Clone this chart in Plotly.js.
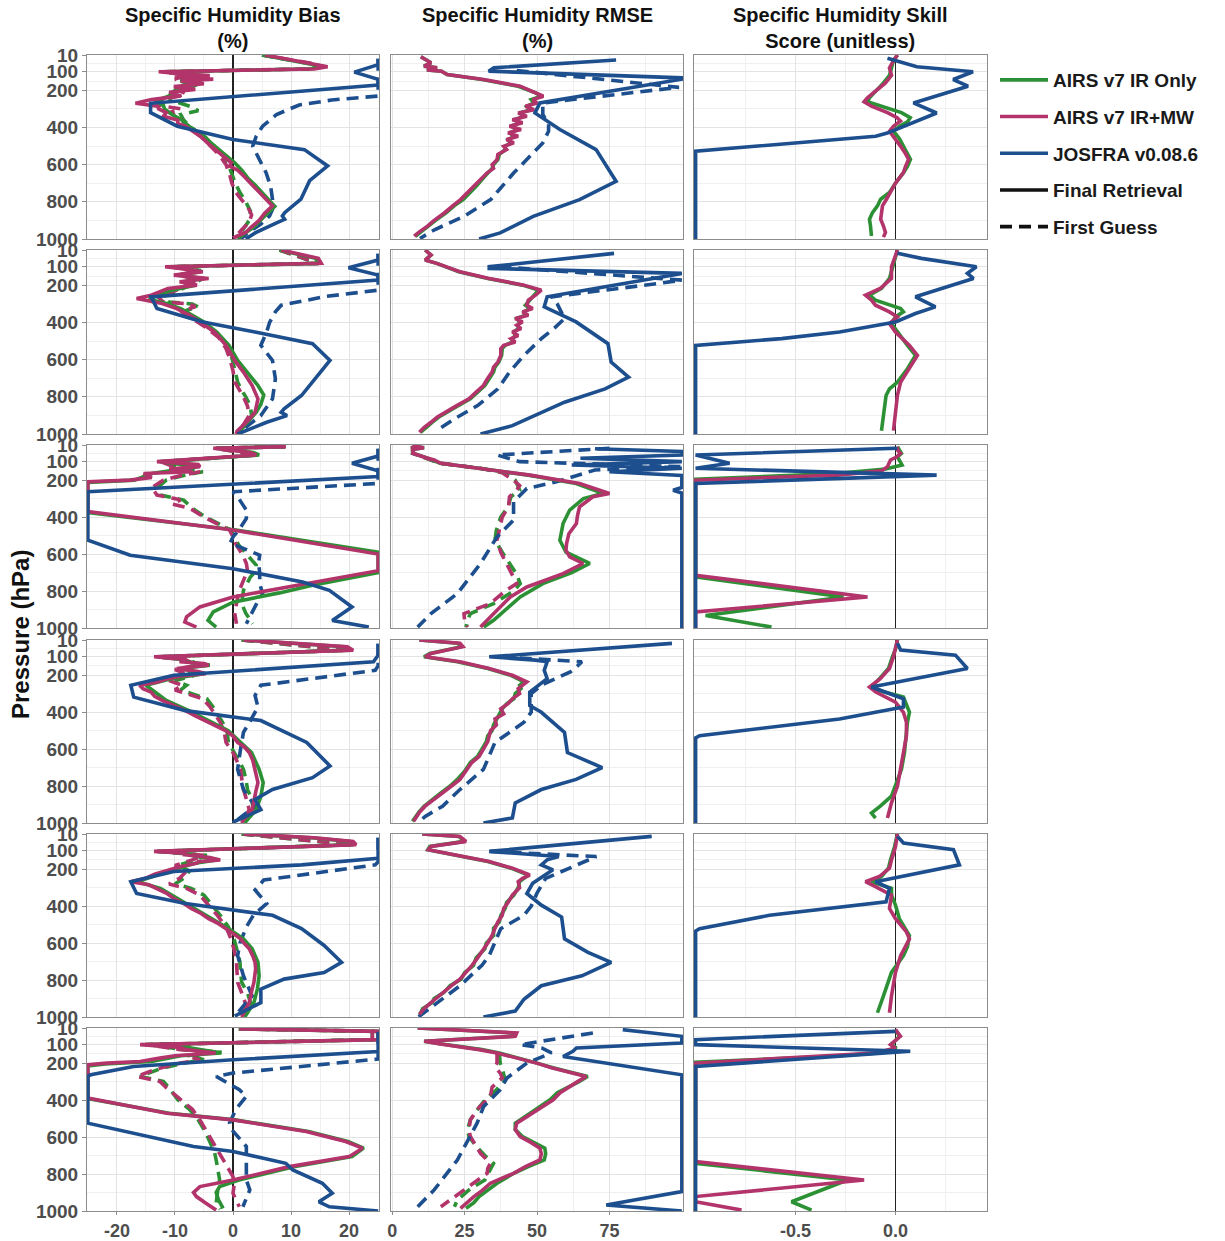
<!DOCTYPE html>
<html><head><meta charset="utf-8">
<script src="https://cdn.plot.ly/plotly-3.0.1.min.js"></script>
<style>body{margin:0;background:#fff}#chart{width:1225px;height:1241px}</style>
</head><body><div id="chart"></div>
<script>
// ---- tick labels / categories ----
const colTitles = ['Specific Humidity Bias<br>(%)', 'Specific Humidity RMSE<br>(%)', 'Specific Humidity Skill<br>Score (unitless)'];
const pressureTicks = [10, 100, 200, 400, 600, 800, 1000];
const biasTicks = [-20, -10, 0, 10, 20];
const rmseTicks = [0, 25, 50, 75];
const skillTicks = [-0.5, 0.0];
const skillTickText = ['-0.5', '0.0'];
const seriesNames = ['AIRS v7 IR Only', 'AIRS v7 IR+MW', 'JOSFRA v0.08.6'];
const stageNames = ['Final Retrieval', 'First Guess'];

// ---- data: [pressure hPa, value] ----
// Row 1
const b1_irmw_f = [[10,5.5],[30,9],[55,14],[73,16.3],[85,14],[100,-12.8],[110,-9.2],[120,-4],[130,-10],[140,-3.4],[150,-9],[165,-5],[180,-10.2],[195,-6.5],[210,-11],[230,-9],[250,-14],[270,-16.8],[285,-13],[300,-12.8],[320,-11.5],[340,-12],[360,-9.5],[380,-9.5],[393,-8.2],[420,-7],[450,-5.5],[480,-4.5],[500,-3.7],[530,-2.5],[560,-1.5],[590,-0.3],[607,-0.6],[630,0.8],[660,1.8],[700,3],[740,4.2],[786,5.7],[822,6.8],[860,5.5],[900,4.5],[940,3],[965,2.2],[990,0.3],[1000,0.5]];
const b1_ir_f = [[10,5],[30,8.5],[55,13.5],[73,15.8],[85,13],[100,-12],[115,-7],[130,-5],[145,-9],[160,-5.5],[180,-7],[200,-10],[230,-11],[260,-13.5],[280,-12],[300,-11.8],[330,-10.5],[360,-8.8],[393,-7.6],[420,-6.3],[450,-4.8],[480,-3.9],[510,-2.8],[550,-1.4],[590,0.3],[630,1.5],[670,2.5],[710,3.8],[750,5],[790,6.3],[825,7.2],[860,6],[900,4.8],[940,3.4],[970,2],[1000,0.8]];
const b1_irmw_g = [[10,5],[55,13.5],[73,15.5],[85,13],[100,-12],[120,-8],[140,-10],[160,-6],[190,-10],[220,-8],[250,-12],[280,-13],[300,-9],[320,-11],[350,-9],[393,-8],[450,-5.5],[500,-3.8],[550,-2.3],[600,-1.2],[650,-0.6],[700,-0.2],[750,0.5],[790,1.5],[830,2.6],[870,3.2],[910,2.8],[950,1.5],[990,0.4]];
const b1_ir_g = [[10,5],[55,13],[73,15.2],[85,12.5],[100,-11.5],[125,-7.5],[150,-9],[180,-6.5],[210,-9.5],[250,-11],[290,-7],[310,-6],[330,-9],[360,-8.5],[393,-7.5],[450,-5],[500,-3.3],[550,-1.8],[600,-0.8],[650,-0.2],[700,0.4],[750,1.2],[800,2.2],[850,3],[900,2.8],[950,1.7],[990,0.6]];
const b1_jo_f = [[30,25],[62,25],[102,20.9],[141,25],[171,25],[270,-14.2],[320,-14.2],[393,-9.6],[465,0],[519,12.3],[607,16.3],[686,13.2],[786,11.7],[858,8.9],[876,8.5],[894,8.9],[912,7.6],[966,3.9],[1000,2.2]];
const b1_jo_g = [[30,25],[231,25],[252,17],[279,11.4],[330,7.5],[393,5.1],[447,4],[500,3.4],[570,4.5],[643,5.7],[720,6.5],[786,6.8],[840,6.8],[876,6.3],[920,4.8],[948,3.4],[990,1.7],[1000,1.2]];
const r1_irmw_f = [[19,9.9],[52,13.4],[70,11],[79,15.5],[90,12],[97,17],[115,19],[142,31.6],[178,44.2],[214,49.9],[232,52.2],[250,48.5],[268,50],[286,46],[304,49],[322,43.5],[340,46.5],[358,41.5],[375,45],[393,40.5],[411,44.5],[429,40],[447,43.5],[465,39.5],[483,42],[501,38.5],[519,39.5],[545,36.5],[573,36.2],[600,34.5],[620,35],[644,32.8],[680,30.5],[716,28.2],[750,26],[788,23.6],[820,21],[860,18],[900,14.5],[931,12.2],[960,9.5],[985,7.6]];
const r1_ir_f = [[19,9.9],[52,13.4],[70,11],[79,15.5],[90,12],[97,17],[115,19],[142,31],[178,43.5],[214,49.5],[232,51.5],[250,48],[268,49],[286,46.5],[304,48],[322,44],[340,45.5],[358,42.5],[375,44],[393,41],[411,43.5],[429,40.5],[447,42.5],[465,40],[483,41],[501,39],[519,39],[545,37],[573,36.5],[600,35],[620,34.5],[644,33],[680,31],[716,29],[750,27],[788,24.5],[820,21.5],[860,18.5],[900,15],[931,12.5],[960,9.8],[985,8]];
const r1_jo_f = [[37,77.3],[79,35.1],[97,33.3],[133,100],[140,100],[268,51],[322,49.3],[411,57.9],[519,70.4],[690,77.3],[788,64.7],[878,48.7],[967,37.3],[1000,30]];
const r1_jo_g = [[93,43],[184,99],[268,52],[330,52],[380,54],[420,54],[483,52],[644,42],[788,34],[878,24.8],[949,14.8],[997,9.6]];
const s1_irmw = [[10,0.01],[40,-0.01],[80,-0.03],[120,-0.02],[160,-0.05],[203,-0.1],[240,-0.14],[262,-0.157],[285,-0.12],[320,-0.04],[347,0.008],[365,0.025],[393,-0.01],[420,-0.03],[460,0.0],[500,0.025],[540,0.05],[571,0.066],[610,0.05],[643,0.04],[700,0.0],[750,-0.024],[786,-0.045],[822,-0.065],[860,-0.07],[894,-0.074],[930,-0.06],[965,-0.05],[990,-0.06]];
const s1_ir = [[10,0.01],[40,-0.01],[80,-0.02],[120,-0.03],[160,-0.06],[203,-0.1],[240,-0.13],[262,-0.14],[290,-0.06],[320,0.03],[347,0.074],[370,0.06],[393,0.02],[420,-0.01],[460,0.02],[500,0.04],[540,0.06],[571,0.075],[610,0.06],[643,0.04],[700,0.0],[750,-0.03],[786,-0.074],[822,-0.09],[858,-0.115],[894,-0.13],[930,-0.125],[984,-0.12]];
const s1_jo = [[28,-0.04],[73,0.107],[100,0.388],[142,0.289],[178,0.363],[268,0.09],[322,0.206],[430,-0.041],[447,-0.099],[528,-1],[1000,-1]];
// Row 2
const b2_irmw_f = [[10,8.3],[55,14.7],[82,15.2],[100,-11.7],[109,-9.2],[127,-5.2],[145,-10.2],[163,-4.2],[181,-9.2],[199,-6.2],[217,-11.2],[240,-13],[253,-14.1],[271,-16.6],[298,-12.2],[325,-9.7],[360,-7.5],[397,-5.7],[451,-3.2],[523,-1.2],[560,-0.5],[604,0.3],[667,1.8],[739,3.3],[811,4.3],[883,3.8],[937,2.3],[982,0.8],[1000,0.5]];
const b2_ir_f = [[10,8],[55,14.2],[82,14.8],[100,-11],[109,-8.5],[127,-5.5],[145,-9.5],[163,-5],[181,-8.5],[199,-6.5],[226,-10.5],[253,-13],[275,-14.5],[298,-11.5],[325,-9],[360,-7],[397,-5],[451,-2.8],[523,-0.7],[604,0.8],[667,2.5],[739,4.3],[790,5.3],[840,4.8],[883,4],[937,2.5],[982,1],[1000,0.7]];
const b2_irmw_g = [[10,8],[82,14.8],[100,-11],[120,-6],[145,-9.5],[170,-6],[200,-8],[230,-10],[260,-13],[290,-12],[300,-7.5],[316,-6.5],[340,-9],[380,-7],[430,-4.5],[480,-2.5],[540,-1.2],[600,-0.5],[660,0],[720,0.3],[760,1],[800,1.8],[850,2.5],[900,2.8],[950,1.8],[990,0.6]];
const b2_ir_g = [[10,8],[82,14.5],[100,-10.5],[120,-5.5],[145,-9],[170,-5.5],[200,-7.5],[230,-9.5],[260,-12],[290,-11],[300,-7],[316,-6],[340,-8.5],[380,-6.5],[430,-4],[480,-2],[540,-0.8],[600,-0.1],[660,0.4],[720,0.8],[760,1.4],[800,2.2],[850,3],[900,3.2],[950,2.2],[990,0.9]];
const b2_jo_f = [[30,25],[64,25],[105,19.9],[145,25],[172,25],[262,-14.1],[325,-13.1],[397,-5.2],[451,3.8],[514,13.7],[604,16.7],[703,14.2],[793,11.8],[865,8.8],[883,8.3],[901,9.3],[937,5.8],[1000,0.8]];
const b2_jo_g = [[30,25],[226,25],[260,16],[307,8.3],[343,7.3],[400,6.3],[451,5.8],[523,4.8],[604,6.8],[703,7.3],[811,6.8],[901,4.8],[973,1.8],[1000,1]];
const r2_irmw_f = [[10,11.4],[37,13.4],[64,11.4],[82,15.4],[127,23.4],[163,33.5],[199,45.5],[226,51.5],[253,49.5],[280,47],[307,46.5],[325,48.5],[343,45],[361,47],[379,42.5],[397,45],[415,43],[433,44.5],[451,41.5],[470,43.5],[487,41],[505,42.5],[523,38.5],[541,37.5],[577,37.5],[613,36.5],[640,35],[667,34.5],[700,33],[739,31.5],[775,29],[811,26.5],[850,22],[883,18.4],[910,15.5],[937,13.4],[965,11],[991,9.4]];
const r2_ir_f = [[10,11.4],[37,13.4],[64,11.4],[82,15.4],[127,23],[163,33],[199,45],[226,50.5],[253,49],[280,47.5],[307,46],[325,47.5],[343,45.5],[361,46],[379,43],[397,44],[415,43.5],[433,43.5],[451,42],[470,42.5],[487,41.5],[505,41.5],[523,39],[541,38],[577,37.8],[613,36.8],[640,35.5],[667,35],[700,33.5],[739,32],[775,29.5],[811,27],[850,22.5],[883,19],[910,16],[937,13.8],[965,11.5],[991,9.8]];
const r2_jo_f = [[28,76.6],[100,33.5],[109,33.5],[136,100],[150,95],[262,53.5],[316,52.5],[397,63.5],[514,74.5],[613,75.6],[694,81.6],[757,73.5],[829,59.5],[901,49.5],[955,41.5],[1000,30.5]];
const r2_jo_g = [[100,37],[172,100],[190,92],[262,55],[300,57],[379,59.5],[430,56],[487,51.5],[577,45.5],[667,40.5],[757,36.5],[847,29.5],[919,21.4],[982,15.4]];
const s2_irmw = [[10,0.01],[100,-0.02],[163,-0.02],[217,-0.076],[253,-0.15],[280,-0.12],[307,-0.1],[343,-0.03],[370,0.01],[406,-0.03],[451,0],[523,0.07],[577,0.11],[649,0.07],[721,0.026],[790,0.01],[883,0],[982,-0.01]];
const s2_ir = [[10,0.01],[100,-0.015],[163,-0.03],[217,-0.07],[253,-0.13],[280,-0.1],[307,-0.02],[325,0.026],[343,0.04],[370,0.0],[406,-0.02],[451,0.01],[523,0.06],[577,0.1],[649,0.06],[721,0.01],[757,-0.03],[793,-0.047],[860,-0.055],[919,-0.06],[982,-0.07]];
const s2_jo = [[28,0.01],[55,0.13],[100,0.405],[136,0.36],[163,0.39],[262,0.1],[316,0.2],[352,0.1],[397,0],[451,-0.28],[487,-0.57],[523,-1],[1000,-1]];
// Row 3
const b3_irmw_f = [[19,9.1],[28,-3.4],[50,3],[64,4],[100,-13.1],[115,-6],[127,-5.7],[140,-11],[155,-7],[164,-15.4],[185,-14],[200,-17.7],[209,-25],[370,-25],[470,0],[600,25],[690,25],[760,12.6],[832,0],[886,-5.7],[940,-8],[968,-8.3],[995,-6.3]];
const b3_ir_f = [[19,9],[28,-3],[50,3.5],[64,4.5],[100,-12.5],[127,-6],[164,-14],[200,-17],[212,-25],[375,-25],[470,0.5],[590,25],[700,25],[770,13.5],[810,8],[860,0],[913,-3.4],[959,-4.3],[995,-2.9]];
const b3_irmw_g = [[19,9],[28,-3],[64,4],[100,-12.5],[127,-10.3],[155,-5.7],[175,-9],[200,-12],[240,-14],[281,-13.1],[300,-10],[308,-9.1],[330,-10.5],[353,-7.4],[398,-5.1],[434,-2.9],[470,-0.6],[507,0],[552,0.6],[606,1.7],[651,2.3],[690,2.5],[724,2],[796,1.1],[868,0.6],[920,0.3],[977,0.6]];
const b3_ir_g = [[19,9],[28,-3],[64,4.3],[100,-12],[127,-9.5],[155,-5.2],[175,-8.5],[200,-11.5],[240,-13],[281,-12.5],[308,-8.5],[353,-7],[398,-4.8],[434,-2.5],[470,-0.4],[507,0.2],[552,1],[606,2.5],[660,4],[690,4],[724,3],[796,1.8],[868,1.5],[920,2.2],[977,3.4]];
const b3_jo_f = [[30,25],[70,25],[109,20.5],[150,25],[181,25],[263,-25],[525,-25],[606,-17.7],[679,0],[751,12],[796,16.6],[886,20.5],[959,17.1],[995,23.4]];
const b3_jo_g = [[30,25],[218,25],[263,0],[300,1],[362,2.3],[407,2.3],[470,1],[507,0],[540,-0.5],[561,1.1],[606,4.6],[651,4.4],[700,4.6],[760,4.6],[814,5.1],[860,4.2],[913,3.4],[977,2.3]];
const r3_irmw_f = [[15,7],[25,11],[33,7.5],[55,7.1],[80,12],[91,14.5],[109,16.8],[136,30.5],[173,47.6],[218,64.7],[272,75],[290,69.3],[344,64.7],[390,64],[435,63.6],[490,61],[543,60.2],[580,60],[615,61.3],[651,65.9],[706,59],[778,46.5],[832,40.8],[904,36.2],[995,30.5]];
const r3_ir_f = [[15,7],[25,11],[33,7.5],[55,7.1],[80,12],[91,14],[109,16.5],[136,30],[173,47],[218,63.5],[272,72.7],[300,66],[362,61.3],[435,59],[525,57.9],[590,60],[651,68.2],[700,62],[760,52],[832,44.2],[900,39],[958,35],[995,31.6]];
const r3_irmw_g = [[15,7],[55,7.1],[109,16.8],[136,30.5],[160,38],[200,41.9],[230,44],[254,43],[290,40.5],[344,40.2],[400,38],[470,37],[525,36.2],[590,37.5],[651,39.6],[710,41.5],[760,43],[800,39],[868,33.9],[922,24.8],[960,25],[995,26]];
const r3_ir_g = [[15,7],[55,7.1],[109,16.5],[136,30],[160,39],[200,42.5],[254,44],[290,41],[344,40],[400,37.5],[470,36],[525,35.5],[590,38],[651,40.5],[710,43],[760,44.2],[800,42],[868,35],[922,27],[958,26],[995,25.5]];
const r3_jo_f = [[30,70],[45,100],[64,100],[82,65],[100,100],[118,62],[136,100],[155,75],[175,100],[240,100],[255,97],[270,100],[1000,100]];
const r3_jo_g = [[28,75],[64,36.2],[100,44],[127,100],[145,70],[209,56.7],[245,46.5],[317,41.9],[416,41.9],[507,36.2],[651,30.5],[814,22.5],[922,13.4],[995,8.8]];
const s3_irmw = [[19,0.01],[37,0.01],[55,0.025],[75,0.005],[91,-0.025],[127,-0.04],[150,-0.07],[173,-0.29],[200,-1],[715,-1],[832,-0.14],[913,-1],[1000,-1]];
const s3_ir = [[19,0.01],[37,0.02],[55,0.03],[75,0.01],[100,0.025],[118,0.033],[140,-0.05],[165,-0.3],[195,-1],[724,-1],[832,-0.26],[932,-0.95],[995,-0.62]];
const s3_jo = [[19,0],[28,0],[64,-1],[109,-0.83],[136,-1],[173,0.206],[218,-1],[1000,-1]];
// Row 4
const b4_irmw_f = [[10,1.8],[28,12],[46,19.7],[65,20.7],[83,5],[101,-13.6],[115,-8],[128,-9.2],[137,-5],[146,-4.2],[164,-9.7],[180,-6],[192,-4.7],[205,-9],[219,-11.2],[237,-13],[255,-16.1],[273,-15.5],[292,-14.1],[315,-13.5],[337,-12.2],[365,-10],[392,-8.2],[420,-6.5],[446,-4.7],[475,-3],[501,-1.2],[530,0],[564,0.8],[590,2],[619,2.8],[660,3.4],[710,3.8],[750,4.2],[782,4.3],[820,4],[855,3.8],[890,3.5],[928,3.3],[960,2.5],[982,1.8],[1000,1.5]];
const b4_ir_f = [[10,1.5],[28,11.5],[46,19.2],[65,20.2],[83,4.5],[101,-13],[115,-8.5],[128,-8],[146,-4],[164,-9],[192,-5],[219,-10.5],[255,-15],[292,-13.5],[337,-11.5],[392,-7.6],[446,-4.2],[501,-0.8],[564,1.3],[619,3.2],[710,4.5],[782,5.2],[855,4.8],[928,4],[982,2.5],[1000,2]];
const b4_irmw_g = [[10,1.5],[65,20],[101,-13],[120,-8],[146,-6.2],[170,-10],[200,-7.5],[230,-11],[255,-8.7],[280,-10],[328,-5.2],[370,-4],[455,-2.2],[510,-1.5],[564,-1.2],[620,0],[673,0.8],[710,1.3],[760,1.5],[818,1.8],[870,2.3],[928,2.8],[982,1.8]];
const b4_ir_g = [[10,1.5],[65,19.5],[101,-12.5],[120,-7.5],[146,-5.5],[170,-9],[200,-6.5],[230,-10],[255,-8],[280,-9],[328,-4.5],[370,-3.5],[455,-1.8],[510,-1],[564,-0.8],[620,0.3],[673,1.2],[710,1.8],[760,2.2],[818,2.5],[870,3.2],[928,3.5],[982,2.2]];
const b4_jo_f = [[30,25],[92,25],[128,24.2],[201,-10.2],[255,-17.6],[319,-17.1],[392,-8.2],[446,4.8],[564,12.7],[691,16.7],[755,13.7],[819,6.8],[873,3.8],[928,4.8],[991,0.3],[1000,0]];
const b4_jo_g = [[30,25],[150,25],[174,24.5],[255,4.8],[310,3.8],[373,4.3],[446,3],[510,1.8],[600,1.3],[710,0.8],[819,1.8],[909,3.8],[982,0.8]];
const r4_irmw_f = [[10,9.4],[28,23.4],[46,24.4],[83,13.4],[101,11.4],[128,23.4],[164,33.5],[201,41.5],[237,46.5],[255,45],[273,43.5],[300,44],[328,41.5],[355,40],[382,37.5],[410,38.5],[437,35.5],[470,36],[500,34],[528,33.5],[560,33],[600,31.5],[640,30],[673,27.5],[720,25.5],[764,23.4],[800,20.5],[837,17.4],[870,14.5],[909,11.4],[940,9.5],[964,8.4],[991,7.4]];
const r4_ir_f = [[10,9.4],[28,22.5],[46,24],[83,13],[101,11],[128,22.5],[164,33],[201,41],[237,45.5],[255,44],[273,44.5],[300,42.5],[328,42],[355,39.5],[382,38],[410,37],[437,36],[470,35],[500,34.5],[528,33],[560,32.5],[600,31],[640,29.5],[673,27],[720,25],[764,22.5],[800,20],[837,16.8],[870,14],[909,11],[940,9.3],[964,8.2],[991,7]];
const r4_jo_f = [[28,96.6],[101,33.5],[119,49.5],[128,53.5],[174,52.5],[219,53.5],[292,47.5],[364,47.5],[401,51.5],[510,59.5],[619,60.5],[700,72.5],[764,63.5],[819,51.5],[891,42.5],[973,41.5],[1000,31.5]];
const r4_jo_g = [[101,37.5],[128,65.5],[150,64],[183,61.5],[250,52],[300,48],[400,48],[455,45.5],[564,35.5],[710,31.5],[819,23.4],[909,17.4],[964,11.4],[1000,9]];
const s4_irmw = [[10,0.01],[60,0.0],[100,-0.01],[164,-0.03],[219,-0.076],[264,-0.13],[290,-0.1],[346,0],[401,0.04],[455,0.055],[528,0.055],[619,0.04],[710,0.026],[800,0.01],[891,-0.02],[973,-0.04]];
const s4_ir = [[10,0.01],[60,0.0],[100,-0.015],[164,-0.035],[219,-0.08],[264,-0.12],[290,-0.06],[319,0.04],[346,0.05],[401,0.07],[455,0.06],[528,0.055],[619,0.045],[710,0.03],[800,0.0],[855,-0.02],[909,-0.076],[946,-0.12],[973,-0.1]];
const s4_jo = [[28,0.01],[64,0.026],[92,0.3],[164,0.36],[264,-0.12],[328,0.04],[373,0.04],[437,-0.28],[528,-0.98],[540,-1],[1000,-1]];
// Row 5
const b5_irmw_f = [[10,1.8],[30,14],[50,20.7],[68,21.2],[85,5],[104,-13.6],[114,-8],[123,-8.2],[137,-4],[150,-2.2],[160,-6],[168,-6.2],[186,-9],[204,-11.2],[227,-13.5],[250,-15.1],[268,-17.6],[285,-14.5],[304,-13.1],[330,-11.5],[359,-10.2],[386,-8.5],[413,-7.2],[440,-5.5],[468,-4.2],[495,-2.5],[522,-1.2],[550,0],[577,1.3],[604,2],[631,2.8],[670,3.4],[704,3.8],[740,3.9],[777,3.8],[813,3.6],[849,3.3],[886,3],[922,2.8],[950,2.3],[977,1.8],[1000,1.5]];
const b5_ir_f = [[10,1.5],[30,13.5],[50,20.2],[68,20.7],[85,4.5],[104,-13],[114,-8.5],[123,-7.5],[150,-2.8],[168,-6.5],[204,-10.5],[250,-14.5],[268,-16.5],[304,-12.5],[359,-9.5],[413,-6.8],[468,-3.8],[522,-0.8],[577,1.8],[631,3.3],[704,4.3],[777,4.5],[849,4.2],[922,3.6],[977,2.5],[1000,2]];
const b5_irmw_g = [[10,1.5],[68,20.7],[104,-13],[125,-5],[150,-7],[180,-10],[210,-8],[250,-9.2],[280,-11],[304,-8],[341,-5.7],[400,-4],[450,-2.7],[513,-1.2],[580,-0.3],[650,0.3],[704,0.6],[760,0.7],[813,0.8],[870,1.5],[940,2.3],[977,0.8]];
const b5_ir_g = [[10,1.5],[68,20.2],[104,-12.5],[125,-4.5],[150,-6.5],[180,-9.5],[210,-7.5],[250,-8.5],[280,-10],[304,-7.2],[341,-5],[400,-3.5],[450,-2.2],[513,-0.8],[580,0.2],[650,0.8],[704,1.2],[760,1.3],[813,1.5],[870,2.5],[940,3.2],[977,1.5]];
const b5_jo_f = [[30,25],[141,25],[177,11.8],[213,-10.2],[268,-17.6],[332,-16.6],[386,-8.2],[422,-0.2],[450,6.8],[522,11.8],[613,15.7],[704,18.7],[759,15.7],[795,8.8],[849,4.8],[922,4.8],[995,0.3]];
const b5_jo_g = [[30,25],[160,25],[177,24.5],[259,5.3],[313,3.8],[386,5.8],[450,3.5],[513,2.3],[600,1.2],[668,0.8],[777,1.8],[886,3.3],[977,0.8]];
const r5_irmw_f = [[10,10.4],[23,23.4],[50,25.5],[77,13.4],[95,12.5],[123,21.4],[159,33.5],[195,41.5],[232,47.5],[250,45],[268,43.5],[300,44],[341,41.5],[380,40],[413,38.5],[450,38],[486,36.5],[520,35.5],[559,34.5],[600,33],[631,31.5],[680,29.5],[722,27.5],[760,25.5],[795,23.4],[830,20.5],[868,17.4],[900,15],[922,13.4],[955,11],[986,9.4]];
const r5_ir_f = [[10,10.4],[23,23],[50,25],[77,13],[95,12.3],[123,21],[159,33],[195,41],[232,47],[250,45.5],[268,44],[300,43.5],[341,42],[380,39.5],[413,39],[450,37.5],[486,37],[520,35],[559,35],[600,32.5],[631,32],[680,29],[722,28],[760,25],[795,23.8],[830,20],[868,17.8],[900,14.5],[922,13.8],[955,10.5],[986,9.6]];
const r5_jo_f = [[23,89.6],[104,33.5],[132,57.5],[150,53.5],[177,51.5],[204,55.5],[277,48.5],[332,46.5],[395,51.5],[459,58.5],[577,59.5],[650,67.6],[704,75.6],[777,65.5],[831,51.5],[904,45.5],[968,42.5],[1000,31.5]];
const r5_jo_g = [[104,34],[132,70.5],[186,62.5],[250,53],[330,50],[400,48],[450,45.5],[522,37.5],[668,33.5],[720,31],[831,23.4],[904,17],[958,12.4],[1000,9]];
const s5_irmw = [[10,0.01],[80,0.0],[150,-0.02],[195,-0.03],[240,-0.08],[268,-0.15],[295,-0.1],[341,-0.02],[413,-0.03],[468,0],[540,0.055],[577,0.07],[668,0.026],[759,0],[886,-0.02],[977,-0.03]];
const s5_ir = [[10,0.01],[80,-0.005],[150,-0.025],[195,-0.035],[240,-0.07],[268,-0.12],[304,-0.02],[341,-0.02],[395,0],[470,0.02],[559,0.07],[620,0.06],[668,0.04],[759,-0.02],[886,-0.06],[977,-0.09]];
const s5_jo = [[23,0.01],[59,0.04],[95,0.29],[177,0.32],[268,-0.1],[304,-0.03],[377,-0.047],[450,-0.63],[522,-0.98],[535,-1],[1000,-1]];
// Row 6
const b6_irmw_f = [[15,1.1],[28,25],[73,25],[100,-16],[115,-9],[127,-8],[145,-3],[160,-10],[173,-12.6],[191,-16],[200,-21.7],[209,-25],[389,-25],[471,-11.4],[507,0],[570,12.6],[624,19.4],[660,22.3],[706,20],[760,9.7],[832,0],[868,-5.7],[900,-6.8],[922,-6.3],[959,-4.6],[995,-2.9]];
const b6_ir_f = [[15,1],[28,25],[73,25],[100,-15],[115,-8],[130,-5],[145,-2],[160,-9],[173,-11],[191,-14],[205,-22],[215,-25],[392,-25],[471,-11],[507,0.3],[570,13],[624,19.8],[660,22.5],[706,20.5],[760,10.5],[832,1],[868,-2.3],[900,-2.9],[940,-2.5],[986,-1.7]];
const b6_irmw_g = [[15,1],[28,24],[73,24],[100,-15],[127,-9.1],[140,-2.9],[160,-8],[182,-5.7],[200,-9.1],[230,-13],[272,-16.6],[299,-12.6],[335,-11.4],[398,-9.1],[450,-7],[507,-5.7],[570,-4.5],[633,-3.4],[680,-2.5],[724,-1.7],[770,-0.8],[814,0],[860,0.2],[904,0],[940,0.5],[977,1.1]];
const b6_ir_g = [[15,1],[28,24],[73,24],[100,-14.5],[127,-8.5],[140,-2],[160,-7.5],[182,-5],[200,-8.5],[230,-12.5],[272,-16],[299,-12],[335,-11],[398,-9.5],[450,-7.5],[507,-6],[570,-4.8],[633,-3.8],[680,-3.2],[724,-2.9],[770,-2.6],[832,-2.3],[880,-2.6],[920,-2.8],[959,-2.9],[990,-2.2]];
const b6_jo_f = [[30,25],[137,25],[182,0],[218,-17.1],[263,-24.5],[270,-25],[525,-25],[579,-17.1],[651,-6.8],[678,0],[742,9.1],[778,10.3],[850,15.4],[904,17.1],[950,14.8],[977,16.6],[1000,25]];
const b6_jo_g = [[30,25],[178,25],[254,0],[272,-2.9],[344,1.1],[380,2.3],[450,0.5],[525,-0.6],[560,-0.2],[651,2.3],[724,2.3],[832,2.3],[886,2.9],[977,1.7]];
const r6_irmw_f = [[10,8.8],[28,30],[37,43],[55,42.5],[70,25],[82,11.1],[95,16],[109,22.5],[127,30],[145,36.2],[170,43],[200,49.9],[225,55],[245,60.2],[272,67],[300,64],[326,61.3],[360,58],[398,55.6],[435,52],[471,48.7],[500,45.5],[525,43],[560,42.5],[597,44.2],[630,48],[660,51],[690,51.5],[724,51],[760,46],[796,41.9],[850,33.9],[890,31],[922,28.2],[955,26],[986,23.6]];
const r6_ir_f = [[10,8.8],[28,29],[37,42],[55,42],[70,24],[82,11],[95,16.5],[109,23],[127,31],[145,37],[170,43.5],[200,50],[225,55.5],[245,61],[272,67.5],[300,64.5],[326,61],[360,57],[398,54.5],[435,51],[471,48],[500,45],[525,42.5],[560,42.5],[597,45],[630,49],[660,52.7],[690,53],[724,52.5],[760,47],[796,42],[850,36.2],[890,32.5],[922,30],[955,28.2],[986,25.5]];
const r6_irmw_g = [[145,36.2],[200,36.2],[220,35.5],[254,37.3],[280,38],[330,34.5],[380,33.9],[440,30],[507,27],[560,26.5],[597,27],[640,28.5],[688,30.5],[742,33.9],[770,33],[796,32.8],[850,28],[904,23.6],[940,20],[977,16.8]];
const r6_ir_g = [[145,37],[200,37.3],[230,38],[290,39],[344,36],[400,32],[460,29],[507,27],[560,26],[597,26.5],[650,29],[700,32],[742,35],[770,34],[832,32],[880,27],[940,22.5],[977,21.5]];
const r6_jo_f = [[19,79.6],[55,100],[91,100],[118,63.6],[136,62.4],[164,59],[263,100],[895,100],[968,73.9],[1000,100]];
const r6_jo_g = [[37,69.3],[100,44.2],[118,51.6],[145,55],[200,46.5],[281,39.6],[344,37.3],[434,31.6],[525,29.3],[724,22.5],[886,14.5],[977,8.8]];
const s6_irmw = [[19,0],[55,0.025],[100,-0.025],[118,0],[145,-0.1],[164,-0.4],[200,-1],[733,-1],[832,-0.157],[922,-1],[950,-1],[995,-0.77]];
const s6_ir = [[19,0],[55,0.02],[100,-0.02],[118,0.005],[145,-0.08],[164,-0.35],[195,-1],[742,-1],[832,-0.24],[950,-0.52],[995,-0.42]];
const s6_jo = [[28,0],[73,-1],[100,-1],[136,0.074],[218,-1],[1000,-1]];

// ---- assemble panels (row-major) ----
const panels = [
  [{ir_g:b1_ir_g, irmw_g:b1_irmw_g, jo_g:b1_jo_g, ir_f:b1_ir_f, irmw_f:b1_irmw_f, jo_f:b1_jo_f},
   {jo_g:r1_jo_g, ir_f:r1_ir_f, irmw_f:r1_irmw_f, jo_f:r1_jo_f},
   {ir_f:s1_ir, irmw_f:s1_irmw, jo_f:s1_jo}],
  [{ir_g:b2_ir_g, irmw_g:b2_irmw_g, jo_g:b2_jo_g, ir_f:b2_ir_f, irmw_f:b2_irmw_f, jo_f:b2_jo_f},
   {jo_g:r2_jo_g, ir_f:r2_ir_f, irmw_f:r2_irmw_f, jo_f:r2_jo_f},
   {ir_f:s2_ir, irmw_f:s2_irmw, jo_f:s2_jo}],
  [{ir_g:b3_ir_g, irmw_g:b3_irmw_g, jo_g:b3_jo_g, ir_f:b3_ir_f, irmw_f:b3_irmw_f, jo_f:b3_jo_f},
   {ir_g:r3_ir_g, irmw_g:r3_irmw_g, jo_g:r3_jo_g, ir_f:r3_ir_f, irmw_f:r3_irmw_f, jo_f:r3_jo_f},
   {ir_f:s3_ir, irmw_f:s3_irmw, jo_f:s3_jo}],
  [{ir_g:b4_ir_g, irmw_g:b4_irmw_g, jo_g:b4_jo_g, ir_f:b4_ir_f, irmw_f:b4_irmw_f, jo_f:b4_jo_f},
   {jo_g:r4_jo_g, ir_f:r4_ir_f, irmw_f:r4_irmw_f, jo_f:r4_jo_f},
   {ir_f:s4_ir, irmw_f:s4_irmw, jo_f:s4_jo}],
  [{ir_g:b5_ir_g, irmw_g:b5_irmw_g, jo_g:b5_jo_g, ir_f:b5_ir_f, irmw_f:b5_irmw_f, jo_f:b5_jo_f},
   {jo_g:r5_jo_g, ir_f:r5_ir_f, irmw_f:r5_irmw_f, jo_f:r5_jo_f},
   {ir_f:s5_ir, irmw_f:s5_irmw, jo_f:s5_jo}],
  [{ir_g:b6_ir_g, irmw_g:b6_irmw_g, jo_g:b6_jo_g, ir_f:b6_ir_f, irmw_f:b6_irmw_f, jo_f:b6_jo_f},
   {ir_g:r6_ir_g, irmw_g:r6_irmw_g, jo_g:r6_jo_g, ir_f:r6_ir_f, irmw_f:r6_irmw_f, jo_f:r6_jo_f},
   {ir_f:s6_ir, irmw_f:s6_irmw, jo_f:s6_jo}]
];

// ---- styling ----
const COLORS = {ir:'#2c9134', irmw:'#b2346a', jo:'#1d4f8e'};
const LW = 3.6;
const DASH = '12px,7px';
const W = 1225, H = 1241;
const colPx = [[87,379],[391,683],[694,987]];
const rowPx = [[55,239],[250,434],[445,628],[640,823],[834,1017],[1028,1211]];
const xRanges = [[-25.15,25.15],[-0.4,100.4],[-1.008,0.458]];
const xTickVals = [biasTicks, rmseTicks, skillTicks];
const xTickText = [biasTicks.map(String), rmseTicks.map(String), skillTickText];
const xMinor = [[-15,-5,5,15],[12.5,37.5,62.5,87.5],[-0.75,-0.25,0.25]];
const yMinor = [55,150,300,500,700,900];
const FONT = 'Liberation Sans, Arial, sans-serif';
const tickFont = {family:FONT, size:19, color:'#4d4d4d', weight:'bold'};
const xTickFont = {family:FONT, size:18, color:'#4d4d4d', weight:'bold'};

const traces = [];
const layout = {
  width:W, height:H, margin:{l:0,r:0,t:0,b:0},
  paper_bgcolor:'#fff', plot_bgcolor:'#fff',
  showlegend:true,
  legend:{x:995/W, y:1-61/H, xanchor:'left', yanchor:'top', tracegroupgap:9, itemwidth:48,
          font:{family:FONT, size:19, color:'#1a1a1a', weight:'bold'}, bgcolor:'rgba(0,0,0,0)'},
  annotations:[], font:{family:FONT}
};

const order = [['ir_g','ir','dash'],['irmw_g','irmw','dash'],['jo_g','jo','dash'],
               ['ir_f','ir','solid'],['irmw_f','irmw','solid'],['jo_f','jo','solid']];

for (let r = 0; r < 6; r++) {
  for (let c = 0; c < 3; c++) {
    const k = r*3 + c + 1;
    const xs = k === 1 ? 'x' : 'x'+k, ys = k === 1 ? 'y' : 'y'+k;
    const p = panels[r][c];
    order.forEach(([key, col, dash]) => {
      const d = p[key];
      if (!d) return;
      traces.push({
        x: d.map(v => v[1]), y: d.map(v => v[0]), xaxis: xs, yaxis: ys,
        mode:'lines', line:{color:COLORS[col], width:LW, dash: dash === 'dash' ? DASH : 'solid'},
        showlegend:false, hoverinfo:'skip'
      });
    });
    const xa = {
      domain:[colPx[c][0]/W, colPx[c][1]/W], anchor:ys, range:xRanges[c],
      tickmode:'array', tickvals:xTickVals[c], ticktext:xTickText[c],
      showticklabels: r === 5, ticks: r === 5 ? 'outside' : '', ticklen:3, tickcolor:'#8c8c8c',
      tickfont:xTickFont, showgrid:true, gridcolor:'#e3e3e3', gridwidth:1,
      minor:{tickmode:'array', tickvals:xMinor[c], showgrid:true, gridcolor:'#f0f0f0', gridwidth:1, ticks:''},
      zeroline: c !== 1, zerolinecolor:'#222', zerolinewidth:1.2,
      showline:true, mirror:true, linecolor:'#8c8c8c', linewidth:1, fixedrange:true
    };
    const ya = {
      domain:[1 - rowPx[r][1]/H, 1 - rowPx[r][0]/H], anchor:xs, range:[1000,10],
      tickmode:'array', tickvals:pressureTicks, ticktext:pressureTicks.map(String),
      showticklabels: c === 0, ticks: c === 0 ? 'outside' : '', ticklen:4, tickcolor:'#8c8c8c',
      tickfont:tickFont, showgrid:true, gridcolor:'#e3e3e3', gridwidth:1,
      minor:{tickmode:'array', tickvals:yMinor, showgrid:true, gridcolor:'#f0f0f0', gridwidth:1, ticks:''},
      zeroline:false, showline:true, mirror:true, linecolor:'#8c8c8c', linewidth:1, fixedrange:true
    };
    layout[k === 1 ? 'xaxis' : 'xaxis'+k] = xa;
    layout[k === 1 ? 'yaxis' : 'yaxis'+k] = ya;
  }
}

// legend entries
const legendItems = [
  [seriesNames[0], COLORS.ir, 'solid'],
  [seriesNames[1], COLORS.irmw, 'solid'],
  [seriesNames[2], COLORS.jo, 'solid'],
  [stageNames[0], '#111', 'solid'],
  [stageNames[1], '#111', DASH]
];
legendItems.forEach(([name, color, dash], i) => {
  traces.push({x:[null], y:[null], xaxis:'x', yaxis:'y', mode:'lines', name:name,
    legendgroup:'g'+i, line:{color:color, width:3.6, dash:dash}, showlegend:true, hoverinfo:'skip'});
});

// column titles
colTitles.forEach((t, c) => {
  layout.annotations.push({text:t, xref:'paper', yref:'paper', x:(colPx[c][0]+colPx[c][1])/2/W, y:1-28/H,
    xanchor:'center', yanchor:'middle', showarrow:false, align:'center',
    font:{family:FONT, size:20, color:'#111', weight:'bold'}});
});
layout.annotations.push({text:'Pressure (hPa)', xref:'paper', yref:'paper', x:20/W, y:1-635/H,
  xanchor:'center', yanchor:'middle', textangle:-90, showarrow:false,
  font:{family:FONT, size:24, color:'#111', weight:'bold'}});

Plotly.newPlot('chart', traces, layout, {displayModeBar:false, staticPlot:true});
</script></body></html>
